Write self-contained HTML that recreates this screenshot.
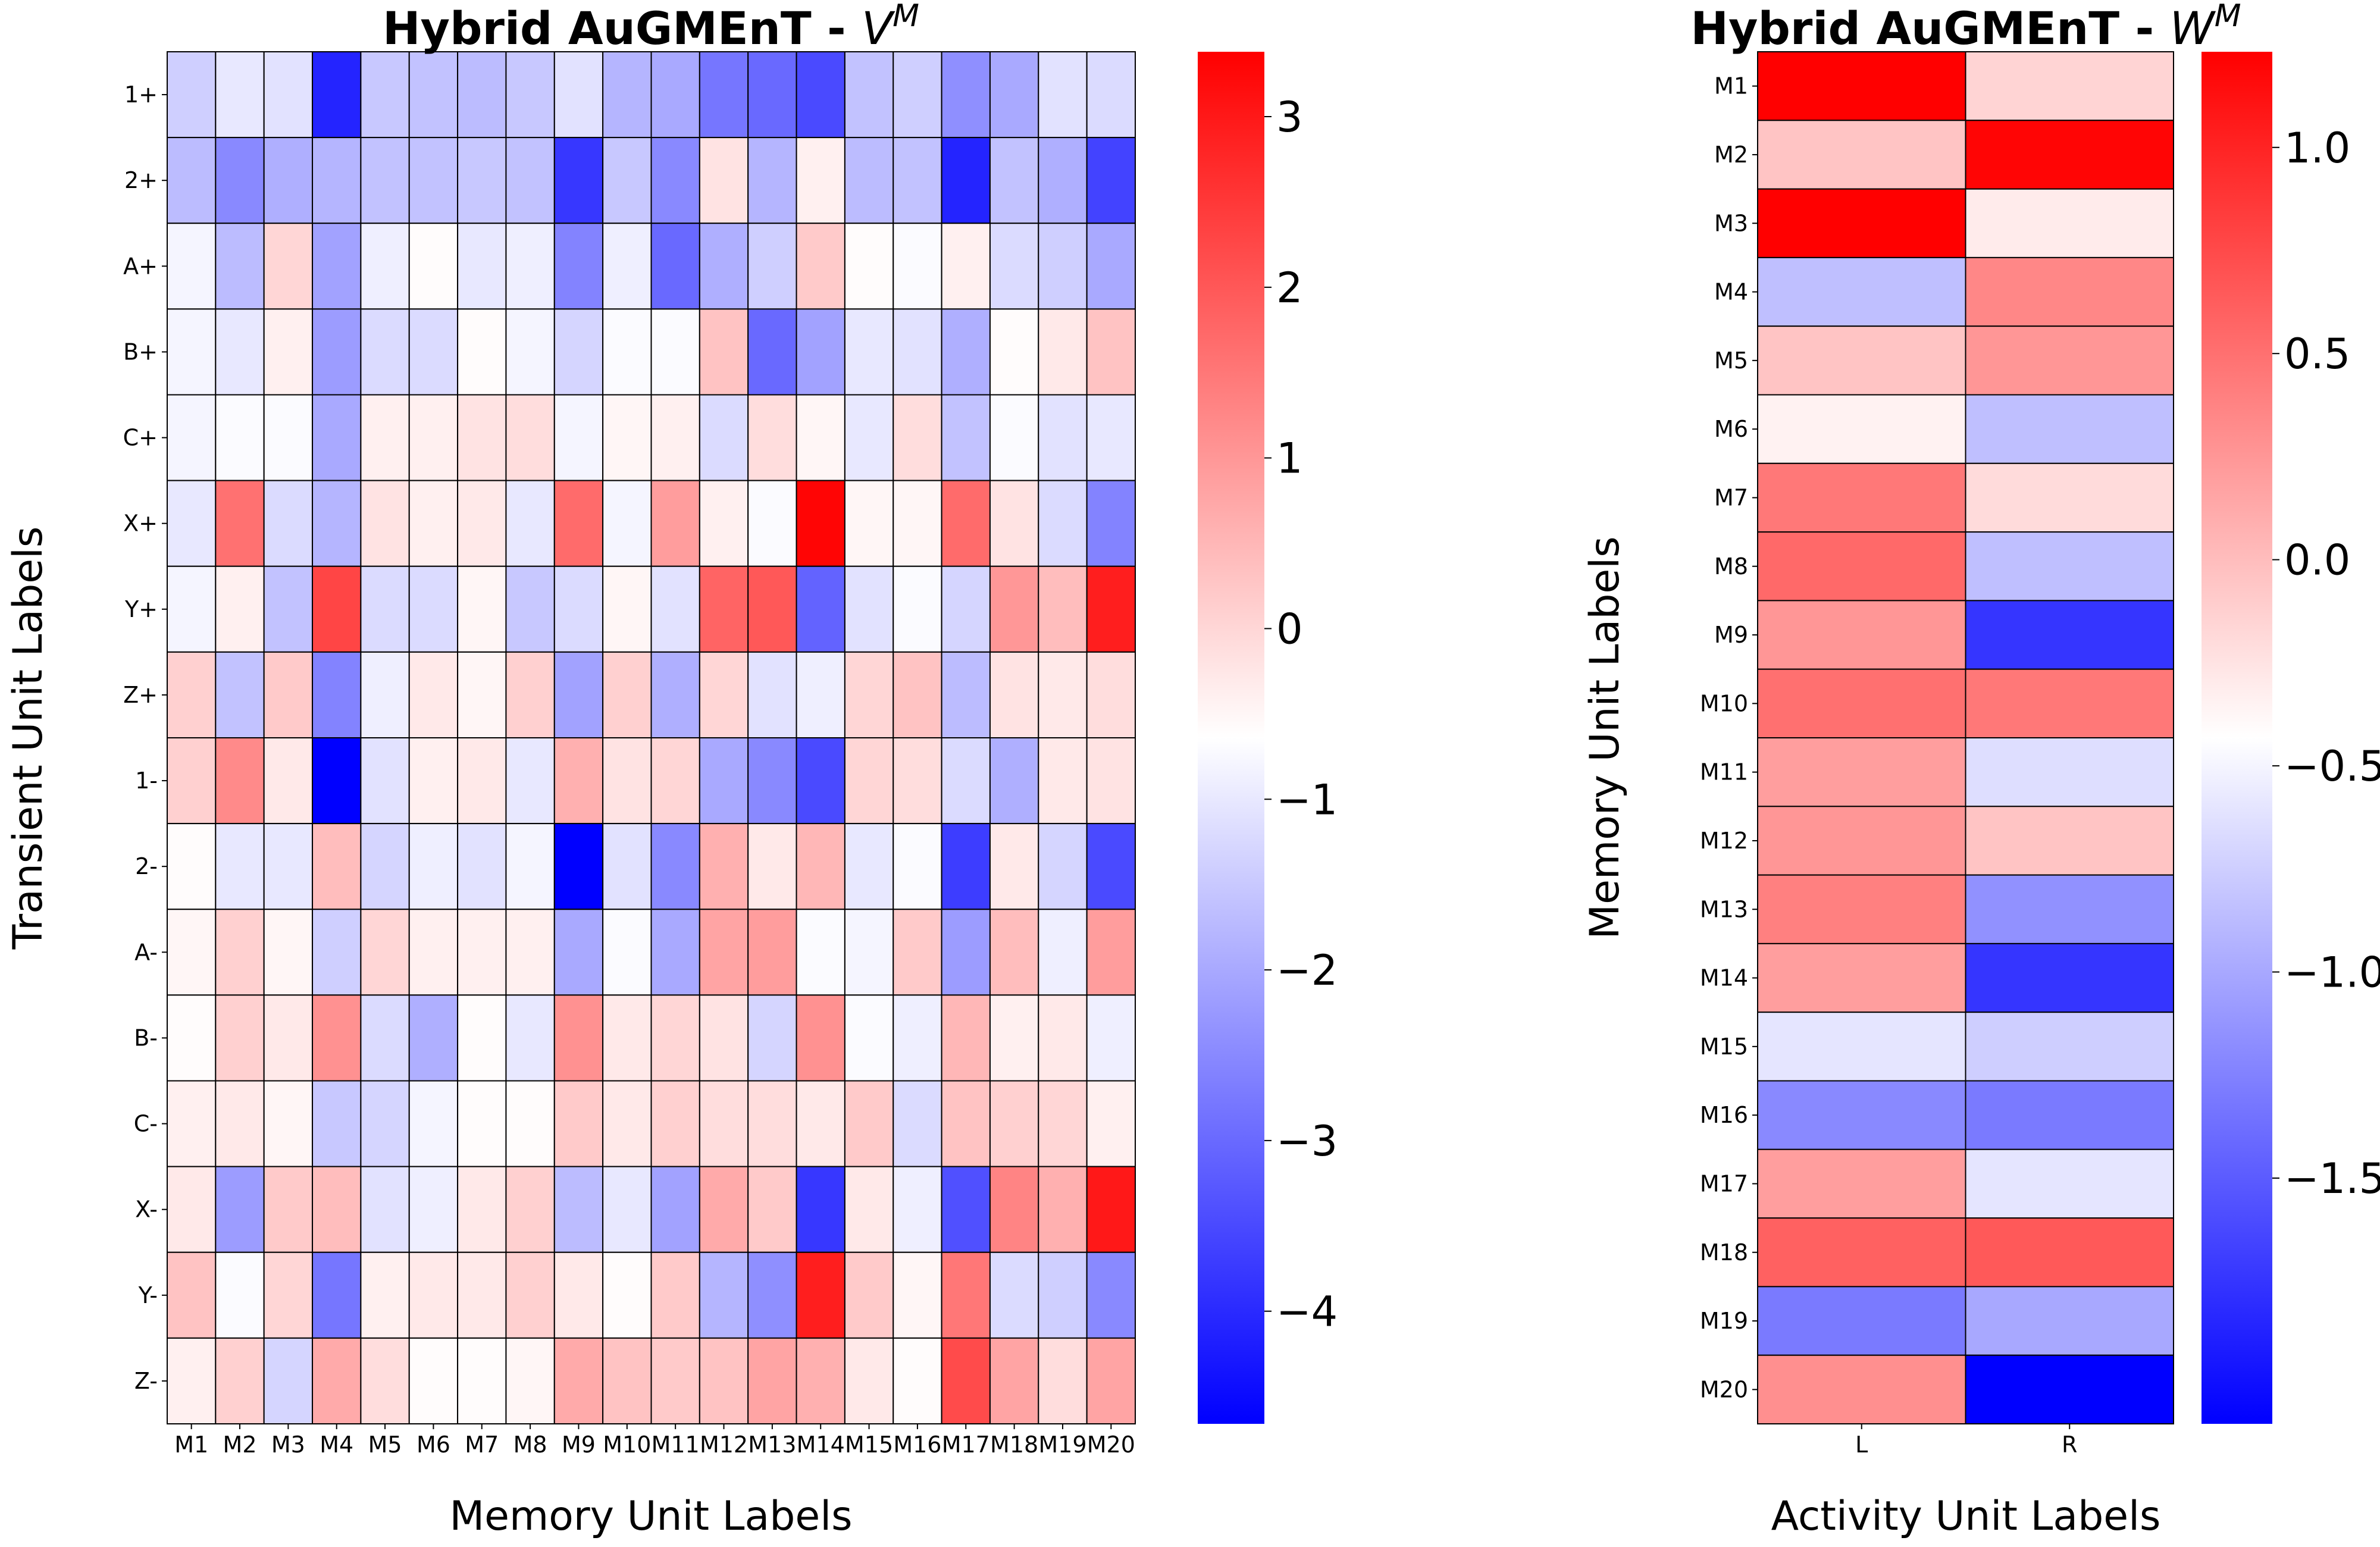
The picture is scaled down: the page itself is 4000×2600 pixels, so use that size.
<!DOCTYPE html>
<html><head><meta charset="utf-8"><style>
body{margin:0;background:#fff;}
svg{display:block;font-family:"DejaVu Sans","Liberation Sans",sans-serif;}
</style></head><body>
<svg id="fig" width="4000" height="2600" viewBox="0 0 4000 2600"></svg>
<script>
const rowLabelsV = ["1+","2+","A+","B+","C+","X+","Y+","Z+","1-","2-","A-","B-","C-","X-","Y-","Z-"];
const colLabelsV = ["M1","M2","M3","M4","M5","M6","M7","M8","M9","M10","M11","M12","M13","M14","M15","M16","M17","M18","M19","M20"];
const valuesV = [
[-1.4,-1.0,-1.1,-4.1,-1.5,-1.6,-1.7,-1.5,-1.1,-1.8,-2.0,-2.8,-3.0,-3.5,-1.6,-1.4,-2.4,-2.0,-1.1,-1.2],
[-1.7,-2.5,-1.9,-1.8,-1.6,-1.6,-1.5,-1.6,-3.8,-1.5,-2.5,-0.2,-1.8,-0.4,-1.7,-1.6,-4.1,-1.6,-1.9,-3.6],
[-0.8,-1.7,0.0,-2.1,-0.9,-0.6,-1.0,-0.9,-2.6,-0.9,-3.0,-1.9,-1.4,0.2,-0.6,-0.7,-0.4,-1.2,-1.4,-2.0],
[-0.8,-1.0,-0.4,-2.2,-1.2,-1.2,-0.6,-0.8,-1.3,-0.7,-0.7,0.3,-3.0,-2.1,-1.0,-1.1,-1.9,-0.6,-0.3,0.3],
[-0.8,-0.7,-0.7,-2.0,-0.4,-0.4,-0.2,-0.1,-0.8,-0.5,-0.4,-1.2,-0.1,-0.5,-1.0,-0.1,-1.6,-0.7,-1.1,-1.0],
[-1.0,1.6,-1.2,-1.8,-0.2,-0.4,-0.3,-1.0,1.7,-0.8,0.9,-0.4,-0.7,3.3,-0.5,-0.5,1.7,-0.2,-1.2,-2.6],
[-0.8,-0.4,-1.6,2.3,-1.2,-1.2,-0.5,-1.5,-1.2,-0.5,-1.1,1.8,2.0,-3.1,-1.1,-0.7,-1.3,1.0,0.4,2.9],
[0.1,-1.6,0.2,-2.6,-0.9,-0.3,-0.5,0.1,-2.1,0.1,-1.9,0.0,-1.1,-0.9,0.0,0.3,-1.7,-0.2,-0.3,-0.1],
[0.1,1.2,-0.3,-4.66,-1.1,-0.4,-0.3,-1.0,0.6,-0.2,0.0,-2.0,-2.5,-3.5,0.0,-0.1,-1.2,-1.9,-0.3,-0.2],
[-0.6,-1.0,-1.0,0.4,-1.3,-0.9,-1.1,-0.8,-4.66,-1.1,-2.5,0.6,-0.3,0.5,-1.0,-0.7,-3.7,-0.3,-1.3,-3.5],
[-0.5,0.1,-0.5,-1.4,0.0,-0.4,-0.4,-0.4,-2.0,-0.7,-2.0,0.8,0.9,-0.7,-0.8,0.2,-2.2,0.4,-0.9,0.9],
[-0.6,0.1,-0.3,1.1,-1.2,-1.9,-0.6,-1.0,1.1,-0.3,0.0,-0.2,-1.3,1.1,-0.7,-0.9,0.5,-0.4,-0.3,-0.9],
[-0.4,-0.3,-0.5,-1.5,-1.3,-0.8,-0.6,-0.6,0.2,-0.3,0.1,-0.1,-0.1,-0.3,0.2,-1.2,0.3,0.1,0.0,-0.4],
[-0.3,-2.2,0.2,0.4,-1.1,-0.9,-0.3,0.1,-1.7,-1.0,-2.1,0.7,0.2,-3.8,-0.3,-0.9,-3.4,1.3,0.6,3.0],
[0.3,-0.7,0.0,-2.8,-0.4,-0.3,-0.3,0.1,-0.3,-0.6,0.2,-1.8,-2.4,2.9,0.2,-0.5,1.5,-1.2,-1.4,-2.5],
[-0.4,0.1,-1.3,0.7,-0.1,-0.6,-0.6,-0.5,0.7,0.3,0.2,0.3,0.8,0.6,-0.3,-0.6,2.2,0.8,-0.1,0.8]
];
const rangeV = [-4.66, 3.38];
const ticksV = [3,2,1,0,-1,-2,-3,-4];

const rowLabelsW = ["M1","M2","M3","M4","M5","M6","M7","M8","M9","M10","M11","M12","M13","M14","M15","M16","M17","M18","M19","M20"];
const colLabelsW = ["L","R"];
const valuesW = [
[1.23,-0.15],[-0.05,1.2],[1.23,-0.3],[-0.85,0.35],[-0.05,0.25],[-0.35,-0.85],[0.45,-0.2],[0.55,-0.85],[0.25,-1.75],[0.5,0.45],
[0.2,-0.65],[0.25,-0.05],[0.4,-1.15],[0.2,-1.75],[-0.6,-0.75],[-1.2,-1.3],[0.2,-0.6],[0.6,0.65],[-1.3,-1.0],[0.3,-2.096]
];
const rangeW = [-2.096, 1.232];
const ticksW = [1.0,0.5,0.0,-0.5,-1.0,-1.5];

const NS="http://www.w3.org/2000/svg";
const svg=document.getElementById('fig');
function mk(tag,attrs,parent){const e=document.createElementNS(NS,tag);for(const k in attrs)e.setAttribute(k,attrs[k]);(parent||svg).appendChild(e);return e;}
function bwr(v,r){let t=(v-r[0])/(r[1]-r[0]);t=Math.max(0,Math.min(1,t));let R,G,B;
 if(t<0.5){R=G=Math.round(255*t*2);B=255;}else{R=255;G=B=Math.round(255*(1-t)*2);}return `rgb(${R},${G},${B})`;}
function fmt(v,d){const s=d?Math.abs(v).toFixed(1):String(Math.abs(v));return (v<0?"\u2212":"")+s;}

function heatmap(name,vals,rows,cols,range,x0,y0,x1,y1,fs){
 const g=mk('g',{});
 
 
 const cw=(x1-x0)/cols.length, ch=(y1-y0)/rows.length;
 vals.forEach((row,i)=>row.forEach((v,j)=>{
  const r=mk('rect',{x:x0+j*cw,y:y0+i*ch,width:cw,height:ch,fill:bwr(v,range),stroke:'#000','stroke-width':2},g);
  
  
 }));
 rows.forEach((l,i)=>{const y=y0+(i+0.5)*ch;
  mk('line',{x1:x0-9,x2:x0,y1:y,y2:y,stroke:'#000','stroke-width':2},g);
  const t=mk('text',{x:x0-16,y:y+13,'text-anchor':'end','font-size':fs},g);t.textContent=l;
  
  });
 cols.forEach((l,j)=>{const x=x0+(j+0.5)*cw;
  mk('line',{x1:x,x2:x,y1:y1,y2:y1+9,stroke:'#000','stroke-width':2},g);
  const t=mk('text',{x:x,y:y1+48,'text-anchor':'middle','font-size':fs},g);t.textContent=l;
  
  });
}
function colorbar(name,range,ticks,x0,y0,x1,y1,dec,id){
 const g=mk('g',{});
 
 
 const defs=mk('defs',{},g);
 const lg=mk('linearGradient',{id:id,x1:0,y1:1,x2:0,y2:0},defs);
 mk('stop',{offset:'0','stop-color':'#0000ff'},lg);mk('stop',{offset:'0.5','stop-color':'#ffffff'},lg);mk('stop',{offset:'1','stop-color':'#ff0000'},lg);
 mk('rect',{x:x0,y:y0,width:x1-x0,height:y1-y0,fill:`url(#${id})`},g);
 const ys=v=>y1-(v-range[0])/(range[1]-range[0])*(y1-y0);
 ticks.forEach(v=>{const y=ys(v);
  mk('line',{x1:x1,x2:x1+12,y1:y,y2:y,stroke:'#000','stroke-width':2},g);
  const t=mk('text',{x:x1+20,y:y+25,'font-size':70},g);t.textContent=fmt(v,dec);
  
  });
}
heatmap('heatmap-vm',valuesV,rowLabelsV,colLabelsV,rangeV,281,87,1908,2393,38);
colorbar('colorbar-vm',rangeV,ticksV,2013,87,2125,2393,false,'gv');
heatmap('heatmap-wm',valuesW,rowLabelsW,colLabelsW,rangeW,2954,87,3653,2393,38);
colorbar('colorbar-wm',rangeW,ticksW,3700,87,3819,2393,true,'gw');

function txt(name,s,attrs,html){const t=mk('text',attrs);if(html)t.innerHTML=s;else t.textContent=s;return t;}
txt('title-vm','Hybrid AuGMEnT - <tspan font-style="italic" font-weight="normal">V</tspan><tspan font-style="italic" font-weight="normal" font-size="52" dy="-30">M</tspan>',{x:1094,y:74,'text-anchor':'middle','font-size':76,'font-weight':'bold'},true);
txt('title-wm','Hybrid AuGMEnT - <tspan font-style="italic" font-weight="normal">W</tspan><tspan font-style="italic" font-weight="normal" font-size="52" dy="-30">M</tspan>',{x:3304,y:74,'text-anchor':'middle','font-size':76,'font-weight':'bold'},true);
txt('x-axis-title-vm','Memory Unit Labels',{x:1094,y:2571,'text-anchor':'middle','font-size':68});
txt('x-axis-title-wm','Activity Unit Labels',{x:3304,y:2571,'text-anchor':'middle','font-size':68});
txt('y-axis-title-vm','Transient Unit Labels',{x:0,y:0,'text-anchor':'middle','font-size':68,transform:'translate(70,1240) rotate(-90)'});
txt('y-axis-title-wm','Memory Unit Labels',{x:0,y:0,'text-anchor':'middle','font-size':68,transform:'translate(2720,1240) rotate(-90)'});
</script>
</body></html>
